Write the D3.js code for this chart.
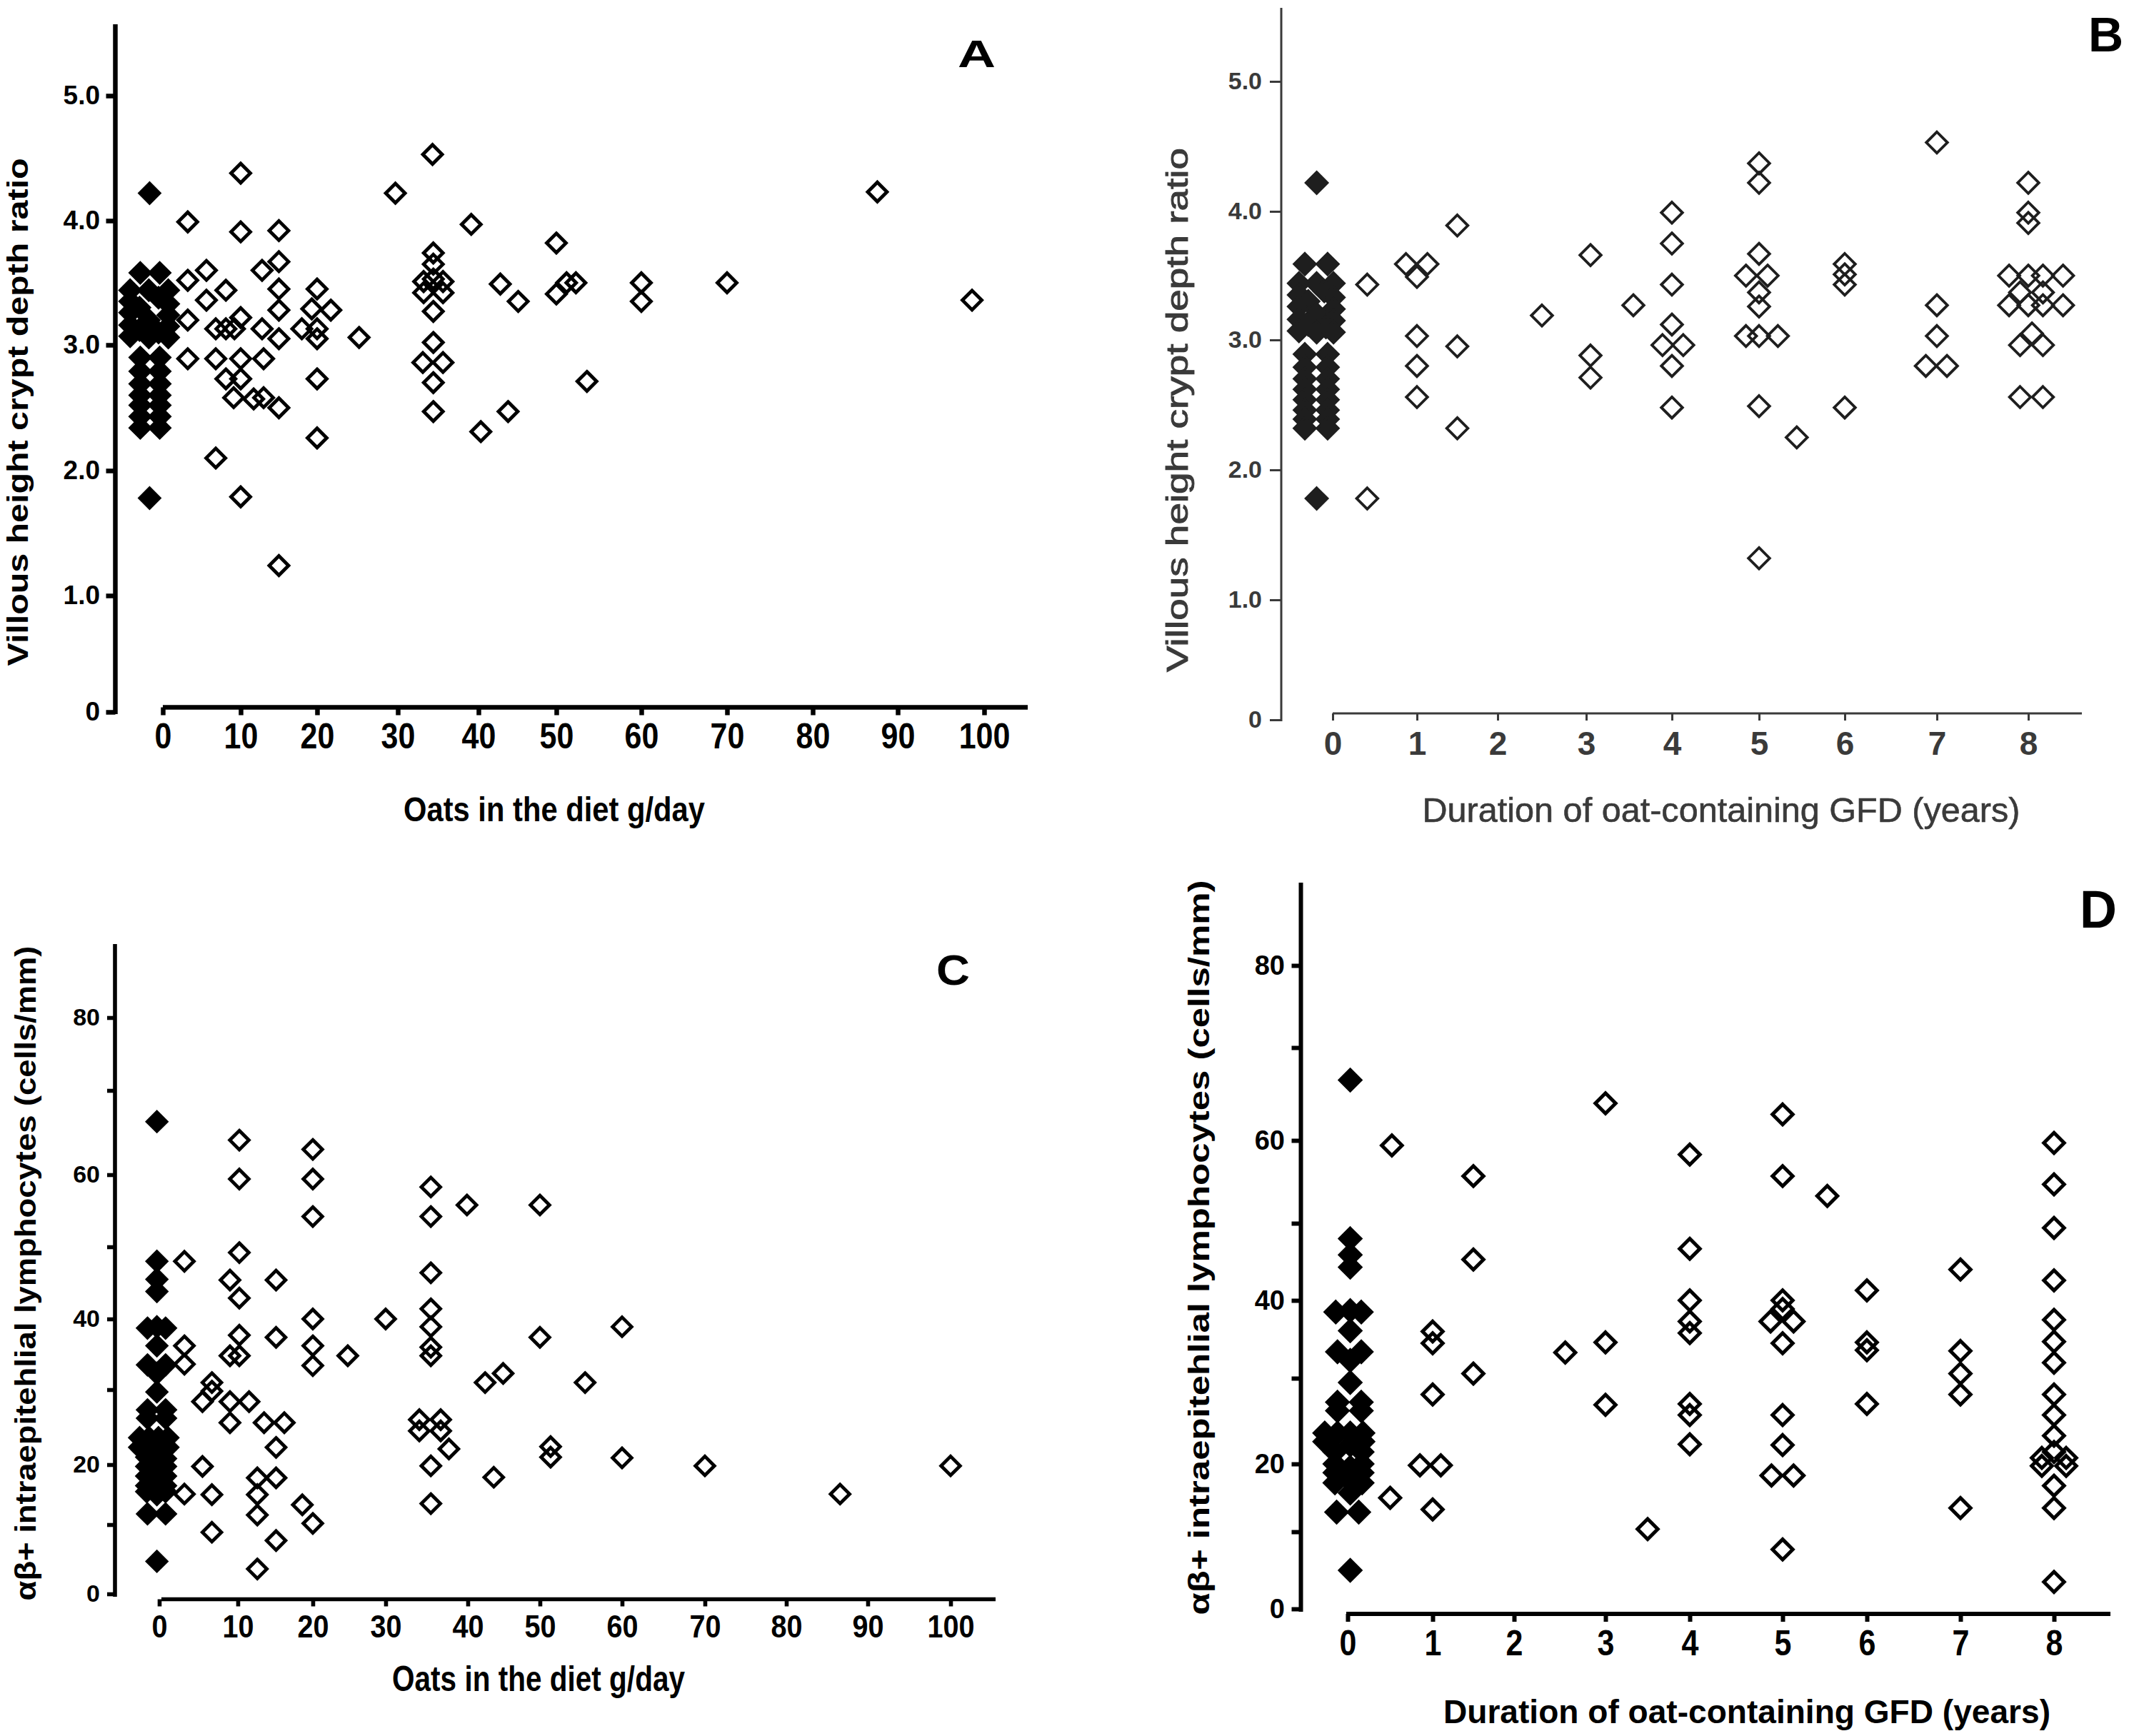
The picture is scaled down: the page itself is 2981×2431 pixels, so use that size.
<!DOCTYPE html>
<html><head><meta charset="utf-8">
<script src="https://cdn.jsdelivr.net/npm/d3@7"></script>
<style>body{margin:0;background:#fff}svg{display:block}</style>
</head><body>
<svg id="fig" width="2981" height="2431"></svg>
<script>
// ---------------- DATA ----------------
const oatTicks = [0,10,20,30,40,50,60,70,80,90,100];
const yearTicks = [0,1,2,3,4,5,6,7,8];
const ratioTicks = [0,1,2,3,4,5];
const ratioTickLabels = ["0","1.0","2.0","3.0","4.0","5.0"];
const ielTicks = [0,20,40,60,80];
const ielMinorTicks = [10,30,50,70];
const ielAllTicks = [0,10,20,30,40,50,60,70,80];

// Panel A: villous/crypt ratio vs oats g/day
const aControls = [[-1.7,4.22],[-2.9,3.58],[-0.4,3.58],
 [-4.2,3.44],[-1.8,3.44],[0.7,3.44],[-4.2,3.35],[-0.55,3.38],[0.7,3.33],
 [-3.0,3.30],[-4.2,3.26],[0.7,3.24],[-1.8,3.2],[-4.2,3.16],[0.7,3.15],
 [-3.0,3.12],[-0.55,3.1],[-4.2,3.07],[-1.8,3.06],[0.7,3.06],
 [-2.9,2.90],[-0.4,2.90],[-2.9,2.79],[-0.4,2.79],[-2.9,2.69],[-0.4,2.69],
 [-2.9,2.60],[-0.4,2.60],[-2.9,2.52],[-0.4,2.52],[-2.9,2.43],[-0.4,2.43],
 [-2.9,2.34],[-0.4,2.34],[-1.7,1.78]];
const aOats = [[10,4.38],[29.7,4.22],[3.2,3.99],[10,3.91],[15,3.92],[15,3.67],[5.6,3.6],[12.8,3.6],
 [3.2,3.52],[8.1,3.44],[15,3.45],[20,3.45],[5.6,3.36],[15,3.28],[19.3,3.29],[21.7,3.28],[3.2,3.2],
 [10,3.22],[6.8,3.13],[8.1,3.13],[9.2,3.13],[12.8,3.13],[18,3.13],[20,3.13],[15,3.05],[20,3.05],
 [25.2,3.06],[3.2,2.89],[6.8,2.89],[10,2.89],[13,2.89],[8.1,2.73],[10,2.73],[20,2.73],[9.1,2.58],
 [11.7,2.57],[13,2.58],[15,2.5],[20,2.26],[6.8,2.1],[10,1.79],[15,1.24],
 [34.3,4.53],[39.1,3.97],[50,3.82],[34.4,3.74],[34.4,3.65],[33.2,3.51],[35.6,3.51],[34.4,3.53],
 [33.2,3.42],[35.6,3.42],[34.4,3.27],[34.4,3.02],[33.1,2.86],[35.6,2.86],[34.4,2.7],[34.4,2.47],
 [42.8,3.49],[45.1,3.35],[50,3.41],[51.2,3.5],[52.3,3.5],[60,3.5],[60,3.35],[70,3.5],[53.6,2.71],
 [40.3,2.31],[43.8,2.47],[87.6,4.23],[98.6,3.36]];

// Panel B: villous/crypt ratio vs duration (years)
const bControls = [[-0.19,4.22],[-0.33,3.59],[-0.06,3.59],
 [-0.40,3.44],[-0.19,3.44],[0.01,3.44],[-0.40,3.35],[-0.1,3.38],[0.01,3.33],
 [-0.29,3.30],[-0.40,3.26],[0.01,3.24],[-0.19,3.2],[-0.40,3.16],[0.01,3.15],
 [-0.29,3.12],[-0.08,3.1],[-0.40,3.07],[-0.19,3.06],[0.01,3.06],
 [-0.33,2.89],[-0.06,2.89],[-0.33,2.79],[-0.06,2.79],[-0.33,2.70],[-0.06,2.70],
 [-0.33,2.62],[-0.06,2.62],[-0.33,2.54],[-0.06,2.54],[-0.33,2.46],[-0.06,2.46],
 [-0.33,2.39],[-0.06,2.39],[-0.33,2.32],[-0.06,2.32],[-0.19,1.78]];
const bOats = [[0.41,3.43],[0.41,1.78],[0.87,3.59],[1.13,3.59],[1.0,3.49],[1.0,3.03],[1.0,2.8],[1.0,2.56],
 [1.5,3.89],[1.5,2.95],[1.5,2.32],[2.5,3.19],[3.05,3.66],[3.05,2.88],[3.05,2.71],[3.55,3.27],
 [4,3.99],[4,3.75],[4,3.43],[4,3.12],[3.89,2.96],[4.13,2.96],[4,2.8],[4,2.48],
 [5,4.37],[5,4.22],[5,3.67],[4.85,3.5],[5.1,3.5],[5,3.37],[5,3.26],[4.85,3.03],[5,3.03],[5.22,3.03],
 [5,2.49],[5,1.32],[5.44,2.25],[6,3.59],[6,3.51],[6,3.43],[6,2.48],
 [7,4.53],[7,3.27],[7,3.03],[6.88,2.8],[7.11,2.8],
 [8,4.22],[8,3.99],[8,3.91],[7.79,3.5],[8,3.5],[8.16,3.5],[8.38,3.5],[7.91,3.37],[8.16,3.37],
 [7.79,3.27],[8,3.27],[8.16,3.27],[8.38,3.27],[8.04,3.05],[7.91,2.96],[8.16,2.96],[7.91,2.56],[8.16,2.56]];

// Panel C: ab+ IEL vs oats g/day
const cControls = [[-0.3,66.3],[-0.3,48],[-0.3,45.5],[-0.3,43.8],[-1.5,38.7],[-0.3,38.9],[0.8,38.7],
 [-0.3,36.2],[-1.5,33.5],[0.8,33.5],[-0.3,32.3],[-0.3,29.7],[-1.5,27.3],[0.8,27.3],[-1.5,26.2],[0.8,26.2],
 [-2.5,23.6],[-1.3,23.6],[-0.1,23.6],[1.1,23.6],[-2.5,22.3],[1.1,22.3],[-0.7,22.0],
 [-1.6,21.0],[-0.3,21.1],[0.8,20.8],[-1.6,19.7],[0.8,19.7],[-0.3,19.4],
 [-1.6,18.1],[0.8,18.1],[-0.3,17.5],[-1.6,16.5],[0.8,16.5],[-0.3,15],[-1.6,15.5],[0.8,15.5],
 [-1.5,11.8],[0.8,11.8],[-0.3,4.7]];
const cOats = [[3.2,48.0],[3.2,36.2],[3.2,33.6],[3.2,15.1],[5.5,19.7],[5.5,28.4],[6.7,31.0],[6.7,29.8],
 [6.7,15.0],[6.7,8.9],[9,45.4],[9,34.8],[9,28.4],[9,25.6],[10.2,49.2],[10.2,42.9],[10.2,37.7],[10.2,34.8],
 [10.2,59.4],[10.2,64.1],[11.5,28.4],[12.6,17.8],[12.6,15.0],[12.6,11.6],[12.6,3.6],[13.5,25.6],[16.2,25.6],
 [15.1,45.4],[15.1,37.4],[15.1,22.3],[15.1,17.8],[15.1,7.7],[18.6,13.3],[20,63.0],[20,59.4],[20,54.2],
 [20,40],[20,36.2],[20,33.4],[20,10.2],[24.8,34.8],[30,40],
 [35.5,58.3],[35.5,54.2],[35.5,46.4],[35.5,41.4],[35.5,38.9],[35.5,36.0],[35.5,34.8],[34.1,26],[36.7,26],
 [34.1,24.5],[36.7,24.5],[37.7,22.1],[35.5,19.8],[35.5,13.5],
 [39.9,55.8],[42.4,31],[44.9,32.3],[43.6,17.9],[50,55.8],[50,37.4],[55.5,31],[51.3,22.4],[51.3,21.0],
 [60,38.9],[60,20.9],[70,19.8],[86.6,15.1],[100,19.8]];

// Panel D: ab+ IEL vs duration (years)
const dControls = [[0.03,66.5],[0.03,48],[0.03,45.9],[0.03,44.3],[-0.14,38.5],[0.03,38.7],[0.16,38.5],
 [0.03,36.1],[-0.12,33.4],[0.16,33.4],[0.03,32.3],[0.03,29.5],[-0.12,27.2],[0.16,27.2],[-0.12,26.2],[0.16,26.2],
 [-0.27,23.6],[-0.12,23.6],[0.03,23.6],[0.18,23.6],[-0.27,22.6],[0.18,22.6],[0.03,22.2],
 [-0.15,21.4],[0.17,21.4],[-0.15,20],[0.17,20],[0.03,19.5],[-0.15,18.7],[0.17,18.7],[0.03,17.5],
 [-0.15,17.2],[0.17,17.2],[0.03,15.7],[-0.13,12.9],[0.13,12.9],[0.03,5]];
const dOats = [[0.52,59.4],[0.5,15.0],[0.85,19.8],[1.1,19.8],[1,36.0],[1,34.5],[1,28.1],[1,13.3],
 [1.5,55.7],[1.5,45.3],[1.5,30.6],[2.56,33.3],[3,64.0],[3,34.6],[3,26.9],[3.5,10.4],
 [4,58.3],[4,46.7],[4,40],[4,37.3],[4,35.8],[4,27],[4,25.7],[4,22.3],
 [5,62.8],[5,55.7],[5.53,53.3],[5,40],[5,38.9],[4.87,37.3],[5.13,37.3],[5,34.5],[5,25.7],[5,22.2],
 [4.88,18.3],[5.13,18.3],[5,7.7],[6,41.3],[6,34.6],[6,33.6],[6,27],
 [7,44.0],[7,33.5],[7,30.6],[7,28.1],[7,13.5],
 [8,59.7],[8,54.7],[8,49.4],[8,42.6],[8,37.5],[8,34.7],[8,32],[8,28.1],[8,25.7],[8,23.3],[8,21.4],
 [7.87,20.7],[8.13,20.7],[7.87,19.7],[8.13,19.7],[8,16.8],[8,13.5],[8,3.5]];

const ratioLabel = "Villous height crypt depth ratio";
const ielLabel = "\u03b1\u03b2+ intraepitehlial lymphocytes (cells/mm)";
const oatsLabel = "Oats in the diet g/day";
const yearsLabel = "Duration of oat-containing GFD (years)";

// ---------------- LAYOUT ----------------
const FONT = "'Liberation Sans', Arial, Helvetica, sans-serif";
const svg = d3.select("#fig");

const diamondType = { draw(ctx, size){ const r = Math.sqrt(size/2); ctx.moveTo(0,-r); ctx.lineTo(r,0); ctx.lineTo(0,r); ctx.lineTo(-r,0); ctx.closePath(); } };

const panels = [
 { letter:"A", controls:aControls, oats:aOats, xTicks:oatTicks, xLabels:oatTicks.map(String),
   yTicks:ratioTicks, yLabels:ratioTickLabels, minor:[],
   xRange:[228,337,444,557,670,779,898,1018,1138,1257,1378], yDomain:ratioTicks, yRange:[997,834,659,483,309,134],
   axisX:161.5, yTop:34, yBot:1000, xAxisY:990.5, xA0:228, xA1:1439, sw:6.5, color:"#000", mk:"#000",
   yTick:13, yPad:8.5, yFont:37, xFont:50, xScaleX:0.86, xOff:22, xTick:11,
   r:13.5, msw:4.8,
   yTitle:{text:ratioLabel, cx:29, cy:577, size:40, len:711, weight:"bold"},
   xTitle:{text:oatsLabel, cx:776, base:1150, size:48, len:422, weight:"bold"},
   let:{x:1341, base:94, size:53, len:53} },
 { letter:"B", controls:bControls, oats:bOats, xTicks:yearTicks, xLabels:yearTicks.map(String),
   yTicks:ratioTicks, yLabels:ratioTickLabels, minor:[],
   xRange:[1866,1984,2097,2221,2341,2463,2583,2712,2840], yDomain:ratioTicks, yRange:[1008,840,658,476,296,114],
   axisX:1794, yTop:11, yBot:1010, xAxisY:999, xA0:1866, xA1:2915, sw:3, color:"#3a3a3a", mk:"#1e1e1e",
   yTick:16, yPad:11, yFont:34, xFont:46, xScaleX:1, xOff:25, xTick:10,
   r:14.8, msw:3.8,
   yTitle:{text:ratioLabel, cx:1652, cy:574, size:42, len:734, weight:"normal"},
   xTitle:{text:yearsLabel, cx:2410, base:1151, size:48, len:837, weight:"normal"},
   let:{x:2924, base:72, size:68, len:null} },
 { letter:"C", controls:cControls, oats:cOats, xTicks:oatTicks, xLabels:oatTicks.map(String),
   yTicks:ielTicks, yLabels:ielTicks.map(String), minor:ielMinorTicks,
   xRange:[223,333,438,540,655,756,871,987,1101,1215,1331], yDomain:ielAllTicks, yRange:[2232,2135,2051,1946,1847,1746,1645,1527,1425],
   axisX:161, yTop:1322, yBot:2236, xAxisY:2239.5, xA0:226, xA1:1394, sw:5.6, color:"#000", mk:"#000",
   yTick:11, yPad:10, yFont:34, xFont:45, xScaleX:0.88, xOff:21.5, xTick:10,
   r:13.3, msw:4.8,
   yTitle:{text:ielLabel, cx:40, cy:1783, size:40, len:917, weight:"bold"},
   xTitle:{text:oatsLabel, cx:754, base:2368, size:50, len:410, weight:"bold"},
   let:{x:1311, base:1379, size:60, len:47} },
 { letter:"D", controls:dControls, oats:dOats, xTicks:yearTicks, xLabels:yearTicks.map(String),
   yTicks:ielTicks, yLabels:ielTicks.map(String), minor:ielMinorTicks,
   xRange:[1887,2006,2120,2248,2366,2496,2614,2745,2876], yDomain:ielAllTicks, yRange:[2253,2145,2050,1930,1821,1713,1597,1467,1352],
   axisX:1821.5, yTop:1236, yBot:2257, xAxisY:2260, xA0:1885, xA1:2955, sw:6, color:"#000", mk:"#000",
   yTick:13, yPad:9.5, yFont:38, xFont:50, xScaleX:0.86, xOff:23, xTick:11,
   r:14.2, msw:5,
   yTitle:{text:ielLabel, cx:1683, cy:1747, size:40, len:1029, weight:"bold"},
   xTitle:{text:yearsLabel, cx:2446, base:2413, size:46, len:850, weight:"bold"},
   let:{x:2912, base:1299, size:74, len:52} }
];

panels.forEach(p => {
  const g = svg.append("g").attr("class","panel-"+p.letter);
  const x = d3.scaleLinear().domain(p.xTicks).range(p.xRange);
  const y = d3.scaleLinear().domain(p.yDomain).range(p.yRange);

  // y axis line
  g.append("line").attr("x1",p.axisX).attr("x2",p.axisX).attr("y1",p.yTop).attr("y2",p.yBot)
    .attr("stroke",p.color).attr("stroke-width",p.sw);
  // y axis ticks + labels
  const ya = g.append("g").attr("transform",`translate(${p.axisX},0)`)
    .call(d3.axisLeft(y).tickValues(p.yTicks).tickFormat((d,i)=>p.yLabels[i]).tickSize(p.yTick).tickPadding(p.yPad));
  ya.select(".domain").remove();
  ya.selectAll(".tick line").attr("stroke",p.color).attr("stroke-width",p.sw);
  ya.selectAll(".tick text").attr("fill",p.color).style("font-family",FONT).style("font-weight","bold").style("font-size",p.yFont+"px");
  if (p.minor.length){
    const ym = g.append("g").attr("transform",`translate(${p.axisX},0)`)
      .call(d3.axisLeft(y).tickValues(p.minor).tickFormat("").tickSize(p.yTick));
    ym.select(".domain").remove();
    ym.selectAll(".tick line").attr("stroke",p.color).attr("stroke-width",p.sw);
  }

  // x axis line
  g.append("line").attr("x1",p.xA0).attr("x2",p.xA1).attr("y1",p.xAxisY).attr("y2",p.xAxisY)
    .attr("stroke",p.color).attr("stroke-width",p.sw);
  const xa = g.append("g").attr("transform",`translate(0,${p.xAxisY})`)
    .call(d3.axisBottom(x).tickValues(p.xTicks).tickFormat((d,i)=>p.xLabels[i]).tickSize(p.xTick).tickPadding(p.xOff - p.xTick));
  xa.select(".domain").remove();
  xa.selectAll(".tick line").attr("stroke",p.color).attr("stroke-width",p.sw);
  xa.selectAll(".tick text").attr("fill",p.color).style("font-family",FONT).style("font-weight","bold")
    .style("font-size",p.xFont+"px").attr("transform",`scale(${p.xScaleX},1)`);

  // markers
  const sym = d3.symbol().type(diamondType).size(2*p.r*p.r);
  g.append("g").selectAll("path").data(p.controls).join("path")
    .attr("d",sym).attr("transform",d=>`translate(${x(d[0])},${y(d[1])})`)
    .attr("fill",p.mk).attr("stroke",p.mk).attr("stroke-width",p.msw).attr("stroke-linejoin","miter");
  g.append("g").selectAll("path").data(p.oats).join("path")
    .attr("d",sym).attr("transform",d=>`translate(${x(d[0])},${y(d[1])})`)
    .attr("fill","none").attr("stroke",p.mk).attr("stroke-width",p.msw).attr("stroke-linejoin","miter");

  // y title (rotated)
  const yt = p.yTitle;
  const ytx = yt.cx + 0.26*yt.size;
  const yText = g.append("text").attr("transform",`translate(${ytx},${yt.cy}) rotate(-90)`)
    .attr("text-anchor","middle").attr("fill",p.color)
    .style("font-family",FONT).style("font-weight",yt.weight).style("font-size",yt.size+"px")
    .attr("textLength",yt.len).attr("lengthAdjust","spacingAndGlyphs").text(yt.text);
  if (yt.weight === "normal") yText.attr("stroke",p.color).attr("stroke-width",0.9);

  // x title
  const xt = p.xTitle;
  const xText = g.append("text").attr("x",xt.cx).attr("y",xt.base).attr("text-anchor","middle").attr("fill",p.color)
    .style("font-family",FONT).style("font-weight",xt.weight).style("font-size",xt.size+"px")
    .attr("textLength",xt.len).attr("lengthAdjust","spacingAndGlyphs").text(xt.text);
  if (xt.weight === "normal") xText.attr("stroke",p.color).attr("stroke-width",0.6);

  // panel letter
  const L = g.append("text").attr("x",p.let.x).attr("y",p.let.base).attr("fill","#000")
    .style("font-family",FONT).style("font-weight","bold").style("font-size",p.let.size+"px").text(p.letter);
  if (p.let.len) L.attr("textLength",p.let.len).attr("lengthAdjust","spacingAndGlyphs");
});
</script>
</body></html>
